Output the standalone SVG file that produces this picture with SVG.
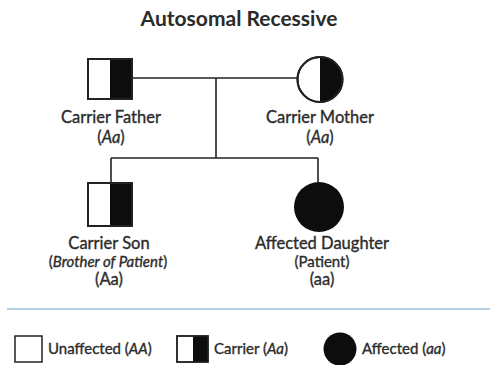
<svg xmlns="http://www.w3.org/2000/svg" width="490" height="365" viewBox="0 0 490 365">
<style>
text{font-family:Lato,"Open Sans","Liberation Sans",sans-serif;fill:#2b2b2b;text-anchor:middle;stroke:#2b2b2b;stroke-width:0.35}
.t{font-size:21px;font-weight:bold;stroke-width:0}
.l{font-size:16.5px}
.s{font-size:15px}
.g{font-size:16.5px}
.lg{font-size:15px;text-anchor:start}
.sym{stroke:#222;stroke-width:2;fill:#fff}
.blk{fill:#0d0d0d;stroke:none}
.ln{stroke:#222;stroke-width:1.6;fill:none}
</style>
<rect width="490" height="365" fill="#fff"/>
<text class="t" x="239" y="26">Autosomal Recessive</text>
<g id="connectors">
<line class="ln" x1="132" y1="78" x2="298" y2="78"/>
<line class="ln" x1="216" y1="78" x2="216" y2="158"/>
<line class="ln" x1="111" y1="158" x2="318" y2="158"/>
<line class="ln" x1="111" y1="158" x2="111" y2="183"/>
<line class="ln" x1="318" y1="158" x2="318" y2="182"/>
</g>
<g id="father">
<rect class="sym" x="88" y="59" width="44" height="40"/>
<rect class="blk" x="110" y="59" width="22" height="40"/>
<rect x="88" y="59" width="44" height="40" fill="none" stroke="#222" stroke-width="2"/>
<text class="l" x="111" y="123">Carrier Father</text>
<text class="g" x="111" y="143">(<tspan font-style="italic">Aa</tspan>)</text>
</g>
<g id="mother">
<circle class="sym" cx="320" cy="79.5" r="22.5"/>
<path class="blk" d="M320 57 A22.5 22.5 0 0 1 320 102 Z"/>
<circle cx="320" cy="79.5" r="22.5" fill="none" stroke="#222" stroke-width="2"/>
<text class="l" x="320" y="123">Carrier Mother</text>
<text class="g" x="320" y="143">(<tspan font-style="italic">Aa</tspan>)</text>
</g>
<g id="son">
<rect class="sym" x="88" y="183" width="44" height="43"/>
<rect class="blk" x="110" y="183" width="22" height="43"/>
<rect x="88" y="183" width="44" height="43" fill="none" stroke="#222" stroke-width="2"/>
<text class="l" x="109" y="249">Carrier Son</text>
<text class="s" x="108" y="267">(<tspan font-style="italic">Brother of Patient</tspan>)</text>
<text class="g" x="109" y="285">(Aa)</text>
</g>
<g id="daughter">
<circle cx="319" cy="207" r="25" fill="#0d0d0d"/>
<text class="l" x="322" y="249">Affected Daughter</text>
<text class="s" x="322" y="267">(Patient)</text>
<text class="g" x="322" y="285">(aa)</text>
</g>
<line x1="7" y1="309" x2="490" y2="309" stroke="#9cc0d6" stroke-width="1.5"/>
<g id="legend">
<rect x="15" y="336" width="27" height="26" fill="#fff" stroke="#222" stroke-width="1.5"/>
<text class="lg" x="48" y="354">Unaffected (<tspan font-style="italic">AA</tspan>)</text>
<rect x="177" y="336" width="31" height="26" fill="#fff" stroke="#222" stroke-width="1.5"/>
<rect x="193" y="336" width="15" height="26" fill="#0d0d0d"/>
<rect x="177" y="336" width="31" height="26" fill="none" stroke="#222" stroke-width="1.5"/>
<text class="lg" x="214" y="354">Carrier (<tspan font-style="italic">Aa</tspan>)</text>
<circle cx="340" cy="349" r="16.5" fill="#0d0d0d"/>
<text class="lg" x="362" y="354">Affected (<tspan font-style="italic">aa</tspan>)</text>
</g>
</svg>
